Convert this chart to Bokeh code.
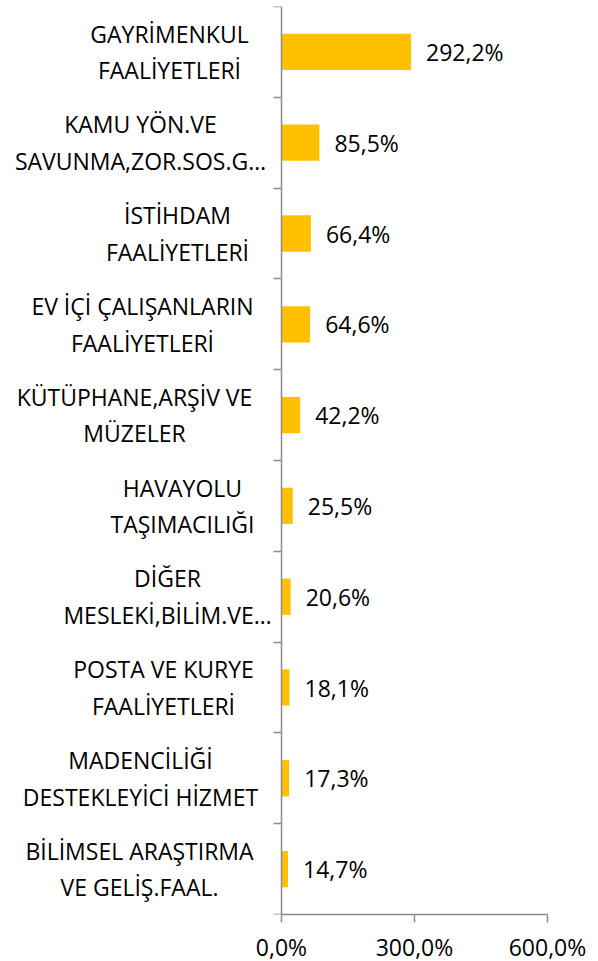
from bokeh.plotting import figure
from bokeh.models import Range1d, LinearAxis, FixedTicker, ColumnDataSource
from bokeh.core.properties import value
from bokeh.embed import file_html
from bokeh.resources import INLINE

categories = [
    "GAYRİMENKUL\nFAALİYETLERİ",
    "KAMU YÖN.VE\nSAVUNMA,ZOR.SOS.G…",
    "İSTİHDAM\nFAALİYETLERİ",
    "EV İÇİ ÇALIŞANLARIN\nFAALİYETLERİ",
    "KÜTÜPHANE,ARŞİV VE\nMÜZELER",
    "HAVAYOLU\nTAŞIMACILIĞI",
    "DİĞER\nMESLEKİ,BİLİM.VE…",
    "POSTA VE KURYE\nFAALİYETLERİ",
    "MADENCİLİĞİ\nDESTEKLEYİCİ HİZMET",
    "BİLİMSEL ARAŞTIRMA\nVE GELİŞ.FAAL.",
]
values = [292.2, 85.5, 66.4, 64.6, 42.2, 25.5, 20.6, 18.1, 17.3, 14.7]
xtick_values = [0, 300, 600]
xtick_labels = ["0,0%", "300,0%", "600,0%"]

# layout only: horizontal offset (px) of each category label's centre from the axis
label_offsets_px = [-112, -141, -104, -139, -147, -99, -114, -118, -141, -142]

FONT = "Open Sans"
n = len(categories)
ypos = [n - 0.5 - i for i in range(n)]
value_labels = [f"{v:.1f}%".replace(".", ",") for v in values]

src = ColumnDataSource(dict(y=ypos, v=values, cat=categories, vl=value_labels,
                            zero=[0] * n, off=label_offsets_px))

p = figure(
    frame_width=547, frame_height=908,
    x_range=Range1d(-633.8, 600), y_range=Range1d(0, n),
    output_backend="svg", toolbar_location=None,
    x_axis_type=None, y_axis_type=None,
    min_border_left=0, min_border_right=51, min_border_top=6, min_border_bottom=40,
)
p.outline_line_color = None
p.xgrid.visible = False
p.ygrid.visible = False
p.background_fill_color = "white"
p.border_fill_color = "white"

p.hbar(y="y", left=0, right="v", height=0.4, source=src, fill_color="#FFC000", line_color=None)

p.text(x="v", y="y", text="vl", source=src, x_offset=15, text_align="left", text_baseline="middle",
       text_font=value(FONT), text_font_size="23px", text_color="black")

p.text(x="zero", y="y", text="cat", source=src, x_offset="off", text_align="center", text_baseline="middle",
       text_font=value(FONT), text_font_size="23px", text_color="black", text_line_height=1.15)

axis_color = "#8c8c8c"

xaxis = LinearAxis(ticker=FixedTicker(ticks=xtick_values, minor_ticks=[]), bounds=(0, 600))
xaxis.major_label_overrides = {t: l for t, l in zip(xtick_values, xtick_labels)}
xaxis.axis_line_color = axis_color
xaxis.axis_line_width = 1.5
xaxis.major_tick_line_color = axis_color
xaxis.major_tick_line_width = 1.5
xaxis.major_tick_out = 8
xaxis.major_tick_in = 0
xaxis.minor_tick_line_color = None
xaxis.major_label_standoff = 8
xaxis.major_label_text_font = FONT
xaxis.major_label_text_font_size = "23px"
xaxis.major_label_text_color = "black"
p.add_layout(xaxis, "below")

# category axis drawn at x = 0; placed in the right panel so ticks point "in" (to the left)
yaxis = LinearAxis(ticker=FixedTicker(ticks=[], minor_ticks=list(range(n + 1))), fixed_location=0)
yaxis.axis_line_color = axis_color
yaxis.axis_line_width = 1.5
yaxis.major_tick_line_color = None
yaxis.minor_tick_line_color = axis_color
yaxis.minor_tick_line_width = 1.5
yaxis.minor_tick_out = 0
yaxis.minor_tick_in = 8
yaxis.major_label_standoff = 0
p.add_layout(yaxis, "right")

open("out.html", "w").write(file_html(p, INLINE))
